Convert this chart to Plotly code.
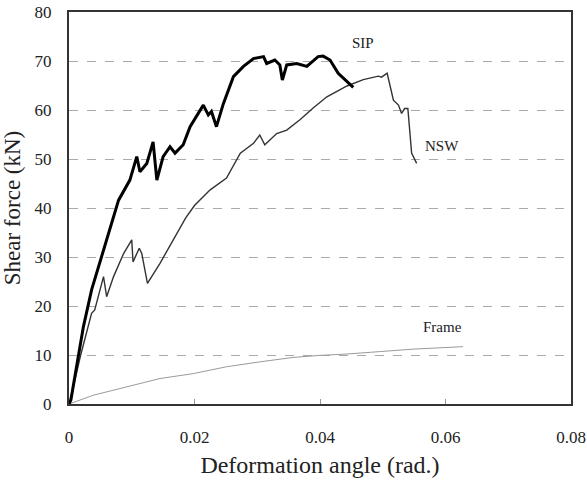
import plotly.graph_objects as go

# SIP (thick black)
sip_x = [0, 0.0003, 0.0012, 0.0023, 0.0036, 0.0049, 0.0063, 0.0072, 0.0079, 0.0097, 0.0108, 0.0113,
         0.0124, 0.0134, 0.0140, 0.0150, 0.0161, 0.0169, 0.0182, 0.0193, 0.0214, 0.0222, 0.0227,
         0.0235, 0.0246, 0.0262, 0.0278, 0.0294, 0.0310, 0.0315, 0.0328, 0.0336, 0.0340, 0.0347,
         0.0363, 0.0379, 0.0397, 0.0405, 0.0416, 0.0429, 0.0443, 0.0453]
sip_y = [0, 0.8, 7.6, 15.8, 23.3, 28.7, 34.8, 38.5, 41.6, 45.7, 50.5, 47.4,
         49.1, 53.5, 45.7, 50.5, 52.5, 51.2, 52.9, 56.6, 61.0, 59.0, 59.7,
         56.6, 61.3, 66.8, 68.9, 70.5, 70.9, 69.5, 70.2, 69.2, 66.1, 69.2,
         69.5, 68.9, 70.9, 71.0, 70.2, 67.5, 65.8, 64.6]

# NSW (medium line)
nsw_x = [0, 0.0007, 0.0018, 0.0028, 0.0036, 0.0041, 0.0047, 0.0055, 0.0060, 0.0071, 0.0087,
         0.0100, 0.0102, 0.0112, 0.0116, 0.0125, 0.0145, 0.0166, 0.0186, 0.0200, 0.0225,
         0.0251, 0.0273, 0.0294, 0.0304, 0.0312, 0.0331, 0.0347, 0.0368, 0.0390, 0.0411,
         0.0443, 0.0469, 0.0493, 0.0498, 0.0507, 0.0517, 0.0525, 0.0530, 0.0535, 0.0540,
         0.0546, 0.0554]
nsw_y = [0, 3.5, 9.7, 14.4, 18.5, 19.2, 21.9, 26.0, 21.9, 26.0, 30.7,
         33.5, 29.0, 31.8, 30.7, 24.6, 28.7, 33.5, 38.0, 40.5, 43.7,
         46.1, 51.2, 53.2, 54.9, 52.9, 55.2, 55.9, 58.0, 60.5, 62.7,
         64.9, 66.2, 66.9, 66.7, 67.5, 62.0, 61.0, 59.3, 60.3, 60.3,
         51.2, 49.1]

# Frame (thin gray)
frame_x = [0, 0.0039, 0.0092, 0.0145, 0.0198, 0.0251, 0.0304, 0.0357, 0.0397, 0.0443,
           0.0496, 0.0549, 0.0628]
frame_y = [0, 1.8, 3.5, 5.2, 6.2, 7.6, 8.6, 9.5, 9.9, 10.2, 10.7, 11.2, 11.7]

x_ticks = [0, 0.02, 0.04, 0.06, 0.08]
x_tick_text = ["0", "0.02", "0.04", "0.06", "0.08"]
y_ticks = [0, 10, 20, 30, 40, 50, 60, 70, 80]

labels = ["SIP", "NSW", "Frame"]
label_x = [0.0469, 0.0594, 0.0596]
label_y = [73.6, 52.6, 15.7]

FONT = "Liberation Serif, Times New Roman, serif"

fig = go.Figure()
fig.add_trace(go.Scatter(x=frame_x, y=frame_y, mode="lines",
                         line=dict(color="#9a9a9a", width=1), showlegend=False))
fig.add_trace(go.Scatter(x=nsw_x, y=nsw_y, mode="lines",
                         line=dict(color="#333333", width=1.4), showlegend=False))
fig.add_trace(go.Scatter(x=sip_x, y=sip_y, mode="lines",
                         line=dict(color="#000000", width=3), showlegend=False))

for t, lx, ly in zip(labels, label_x, label_y):
    fig.add_annotation(x=lx, y=ly, text=t, showarrow=False,
                       font=dict(family=FONT, size=15, color="#222"))

fig.update_layout(
    width=587, height=487,
    margin=dict(l=69, r=16, t=12, b=83),
    paper_bgcolor="white", plot_bgcolor="white",
    font=dict(family=FONT, color="#222"),
)
fig.update_xaxes(
    range=[0, 0.08], tickvals=x_ticks, ticktext=x_tick_text,
    showgrid=False, zeroline=False, automargin=False,
    showline=True, linecolor="#333", linewidth=2, mirror=True,
    ticks="inside", ticklen=5, tickcolor="#999", tickwidth=1,
    tickfont=dict(family=FONT, size=17, color="#222"),
    ticklabelstandoff=17,
    title=dict(text="Deformation angle (rad.)", font=dict(family=FONT, size=24, color="#222"),
               standoff=10),
)
fig.update_yaxes(
    range=[0, 80], tickvals=y_ticks,
    showgrid=True, gridcolor="#aaaaaa", griddash="dash", gridwidth=1,
    zeroline=False, automargin=False,
    showline=True, linecolor="#333", linewidth=2, mirror=True,
    ticks="",
    tickfont=dict(family=FONT, size=17, color="#222"),
    ticklabelstandoff=12,
    title=dict(text="Shear force (kN)", font=dict(family=FONT, size=23, color="#222"),
               standoff=8),
)

fig.write_html("out.html")
